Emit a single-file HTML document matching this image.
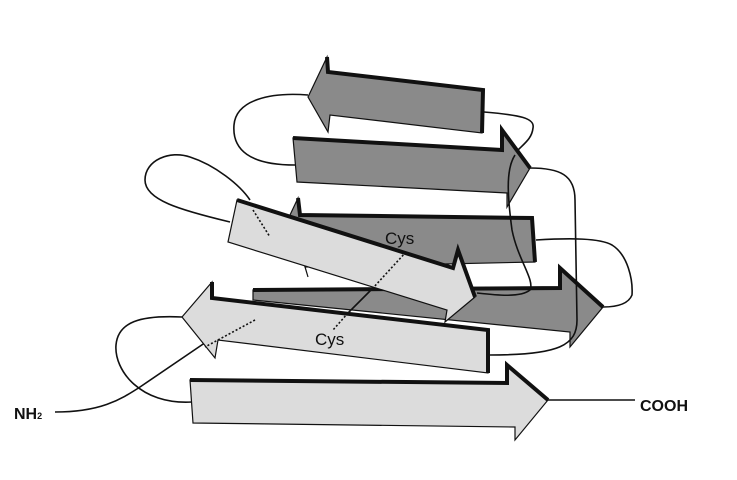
<!DOCTYPE html>
<html><head><meta charset="utf-8"><style>
html,body{margin:0;padding:0;background:#fff;}
svg{display:block;}
text{font-family:"Liberation Sans",sans-serif;}
</style></head><body>
<svg width="737" height="480" viewBox="0 0 737 480" xmlns="http://www.w3.org/2000/svg">
<g fill="none" stroke="#111" stroke-width="1.6">
<path d="M295,165 C250,165 232,150 234,125 C236,100 270,92 308,95"/>
<path d="M484,112 C520,115 535,118 533,128 C532,138 525,143 518,150"/>
<path d="M230,222 C180,210 145,200 145,180 C145,160 170,150 190,157 C215,165 240,185 250,200"/>
</g>
<polygon points="308,97 327,57 328,72 483,90 482,133 330,115 328,132" fill="#8a8a8a" stroke="#111" stroke-width="1.2"/>
<polyline points="327,57 328,72 483,90 482,133" fill="none" stroke="#111" stroke-width="4"/>
<polygon points="293,138 502,150 502,130 530,168 507,207 507,193 297,182" fill="#8a8a8a" stroke="#111" stroke-width="1.2"/>
<polyline points="293,138 502,150 502,130 530,168" fill="none" stroke="#111" stroke-width="4"/>
<polygon points="290,215 298,198 300,215 532,218 535,262 305,267 308,277" fill="#8a8a8a" stroke="#111" stroke-width="1.2"/>
<polyline points="298,198 300,215 532,218 535,262" fill="none" stroke="#111" stroke-width="4"/>
<polygon points="253,290 560,288 560,268 603,307 570,347 570,332 253,300" fill="#8a8a8a" stroke="#111" stroke-width="1.2"/>
<polyline points="253,290 560,288 560,268 603,307" fill="none" stroke="#111" stroke-width="4"/>
<g fill="none" stroke="#111" stroke-width="1.6">
<path d="M530,168 C560,168 575,175 575,200 L577,320 C577,345 560,355 490,355"/>
<path d="M515,155 C505,170 508,200 512,230 C518,260 535,280 530,290 C520,298 495,295 477,293"/>
<path d="M536,240 C570,238 600,238 612,245 C628,255 633,280 632,295 C628,305 615,307 603,307"/>
<path d="M55,412 C100,412 120,400 140,387 L212,338"/>
<path d="M182,317 C140,315 118,322 116,345 C114,370 140,405 192,402"/>
</g>
<polygon points="237,200 453,268 458,250 475,297 445,322 447,310 228,242" fill="#dcdcdc" stroke="#111" stroke-width="1.2"/>
<polyline points="237,200 453,268 458,250 475,297" fill="none" stroke="#111" stroke-width="4"/>
<polygon points="182,317 212,282 212,298 488,330 488,373 218,340 215,358" fill="#dcdcdc" stroke="#111" stroke-width="1.2"/>
<polyline points="212,282 212,298 488,330 488,373" fill="none" stroke="#111" stroke-width="4"/>
<polygon points="190,380 507,383 507,365 548,400 515,440 515,427 193,423" fill="#dcdcdc" stroke="#111" stroke-width="1.2"/>
<polyline points="190,380 507,383 507,365 548,400" fill="none" stroke="#111" stroke-width="4"/>
<line x1="548" y1="400" x2="635" y2="400" stroke="#111" stroke-width="1.6"/>
<g stroke="#111" stroke-width="1.6" fill="none">
<line x1="253" y1="210" x2="270" y2="237" stroke-dasharray="2,2"/>
<line x1="406" y1="252" x2="373" y2="288" stroke-dasharray="2,2"/>
<line x1="373" y1="288" x2="348" y2="313"/>
<line x1="348" y1="313" x2="333" y2="330" stroke-dasharray="2,2"/>
<line x1="255" y1="320" x2="205" y2="347" stroke-dasharray="2,2"/>
</g>
<text x="385" y="244" font-size="17" fill="#111">Cys</text>
<text x="315" y="345" font-size="17" fill="#111">Cys</text>
<text x="14" y="419" font-size="16" font-weight="bold" fill="#111">NH<tspan font-size="9">2</tspan></text>
<text x="640" y="411" font-size="16" font-weight="bold" fill="#111">COOH</text>
</svg>
</body></html>
